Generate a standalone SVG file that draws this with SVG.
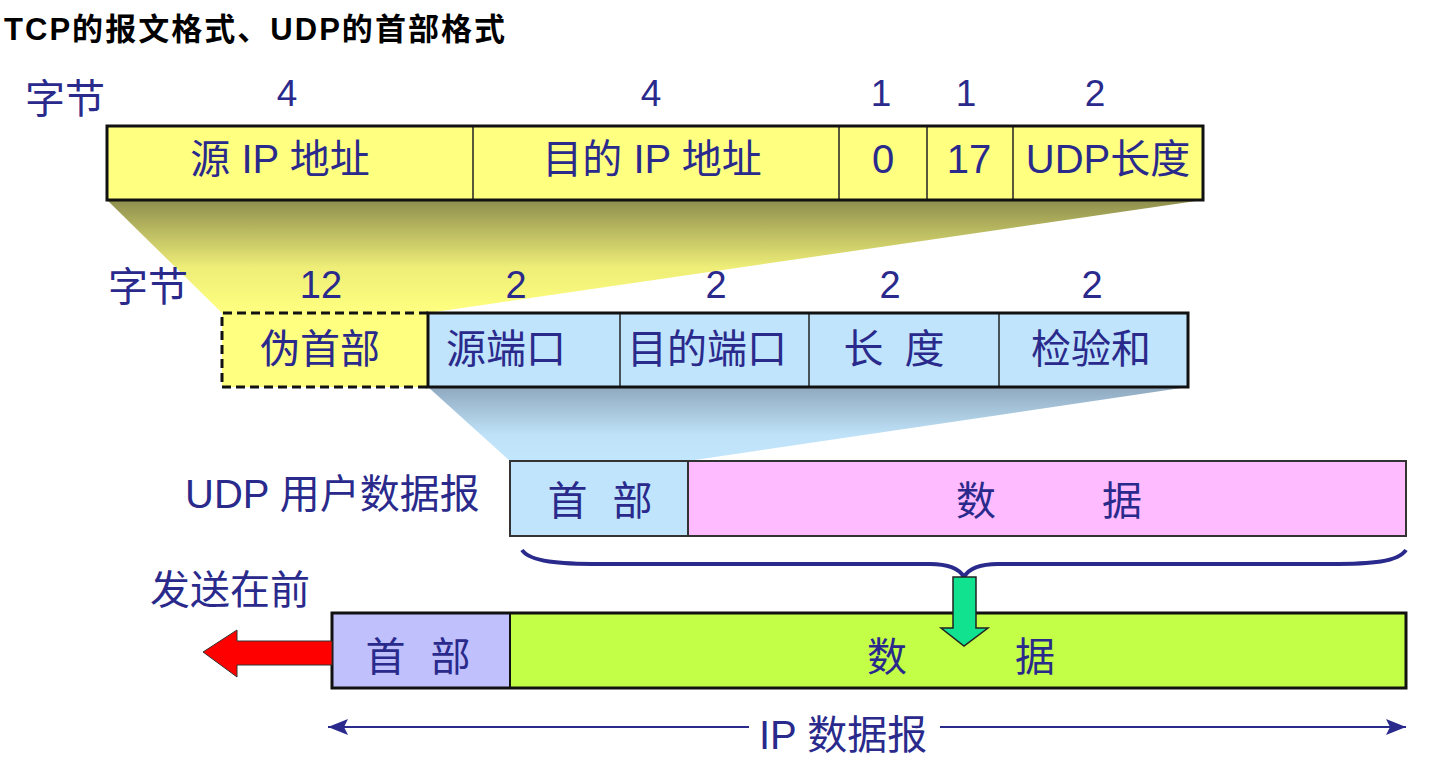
<svg xmlns="http://www.w3.org/2000/svg" width="1446" height="768" viewBox="0 0 1446 768">
<defs>
<linearGradient id="gy" x1="0" y1="0" x2="0" y2="1">
<stop offset="0" stop-color="#8e8e4e"/>
<stop offset="0.6" stop-color="#eeee78"/>
<stop offset="1" stop-color="#ffff80"/>
</linearGradient>
<linearGradient id="gb" x1="0" y1="0" x2="0" y2="1">
<stop offset="0" stop-color="#8fa9bf"/>
<stop offset="0.65" stop-color="#bfe2f8"/>
<stop offset="1" stop-color="#c2e6fb"/>
</linearGradient>
<marker id="ah" viewBox="0 0 20 16" refX="20" refY="8" markerWidth="20" markerHeight="16" markerUnits="userSpaceOnUse" orient="auto-start-reverse">
<path d="M0,0 L20,8 L0,16 L4,8 Z" fill="#2a2a8c"/>
</marker>
<style>
.t{font-family:"Liberation Sans","Noto Sans CJK SC",sans-serif;fill:#2a2a8c;font-size:40px}
.c{text-anchor:middle}
.yel{fill:#ffff80}
.blu{fill:#c0e4fb}
.box{stroke:#111;stroke-width:3;fill:none}
.div{stroke:#222;stroke-width:1.5}
</style>
</defs>
<rect width="1446" height="768" fill="#fff"/>
<text x="4" y="40" textLength="501" lengthAdjust="spacing" style="font-family:'Liberation Sans','Noto Sans CJK SC',sans-serif;font-weight:bold;font-size:31px;fill:#000">TCP的报文格式、UDP的首部格式</text>

<g id="funnels">
<polygon points="107,200 1203,200 428,313 222,313" fill="url(#gy)"/>
<polygon points="428,387 1188,387 688,461 510,461" fill="url(#gb)"/>
</g>

<g id="row1">
<text class="t" x="25" y="113">字节</text>
<text class="t c" x="287" y="106" style="font-size:37px">4</text>
<text class="t c" x="651" y="106" style="font-size:37px">4</text>
<text class="t c" x="881" y="106" style="font-size:37px">1</text>
<text class="t c" x="966" y="106" style="font-size:37px">1</text>
<text class="t c" x="1095" y="106" style="font-size:37px">2</text>
</g>

<g id="pseudo-header">
<rect x="107" y="126" width="1096" height="74" class="yel"/>
<line x1="473" y1="126" x2="473" y2="200" class="div"/>
<line x1="839" y1="126" x2="839" y2="200" class="div"/>
<line x1="927" y1="126" x2="927" y2="200" class="div"/>
<line x1="1013" y1="126" x2="1013" y2="200" class="div"/>
<rect x="107" y="126" width="1096" height="74" class="box"/>
<text class="t c" x="280" y="173">源 IP 地址</text>
<text class="t c" x="652" y="173">目的 IP 地址</text>
<text class="t c" x="883" y="173">0</text>
<text class="t c" x="969" y="173">17</text>
<text class="t c" x="1108" y="173">UDP长度</text>
</g>

<g id="row2">
<text class="t" x="108" y="301">字节</text>
<text class="t c" x="321" y="298" style="font-size:38px">12</text>
<text class="t c" x="516" y="298" style="font-size:38px">2</text>
<text class="t c" x="716" y="298" style="font-size:38px">2</text>
<text class="t c" x="890" y="298" style="font-size:38px">2</text>
<text class="t c" x="1092" y="298" style="font-size:38px">2</text>
</g>

<g id="udp-header">
<rect x="222" y="313" width="206" height="74" class="yel"/>
<rect x="428" y="313" width="760" height="74" class="blu"/>
<path d="M428,313 L222,313 L222,387 L428,387" fill="none" stroke="#111" stroke-width="3" stroke-dasharray="9,5"/>
<line x1="620" y1="313" x2="620" y2="387" class="div"/>
<line x1="809" y1="313" x2="809" y2="387" class="div"/>
<line x1="999" y1="313" x2="999" y2="387" class="div"/>
<rect x="428" y="313" width="760" height="74" class="box"/>
<text class="t c" x="320" y="363">伪首部</text>
<text class="t c" x="506" y="363">源端口</text>
<text class="t c" x="707" y="363">目的端口</text>
<text class="t c" x="894" y="363" style="word-spacing:10px">长 度</text>
<text class="t c" x="1091" y="363">检验和</text>
</g>

<g id="udp-datagram">
<text class="t" x="185" y="508">UDP 用户数据报</text>
<rect x="510" y="461" width="178" height="75" class="blu"/>
<rect x="688" y="461" width="718" height="75" fill="#ffbbff"/>
<line x1="688" y1="461" x2="688" y2="536" stroke="#333" stroke-width="2"/>
<rect x="510" y="461" width="896" height="75" fill="none" stroke="#333" stroke-width="2"/>
<text class="t c" x="600" y="515" style="word-spacing:14px">首 部</text>
<text class="t c" y="515"><tspan x="976">数</tspan><tspan x="1122">据</tspan></text>
</g>

<g id="ip-datagram">
<text class="t" x="150" y="604">发送在前</text>
<rect x="332" y="613" width="178" height="75" fill="#c0c0fd"/>
<rect x="510" y="613" width="896" height="75" fill="#c4ff48"/>
<line x1="510" y1="613" x2="510" y2="688" stroke="#111" stroke-width="2"/>
<rect x="332" y="613" width="1074" height="75" class="box"/>
<text class="t c" x="418" y="671" style="word-spacing:14px">首 部</text>
<text class="t c" y="671"><tspan x="887">数</tspan><tspan x="1035">据</tspan></text>
</g>

<g id="connectors">
<path d="M522,550 C530,562 560,564 600,564 L930,564 C952,564 960,570 964,577 C968,570 976,564 998,564 L1330,564 C1372,564 1398,562 1406,550" fill="none" stroke="#2a2a8c" stroke-width="4"/>
<polygon points="953,577 976,577 976,628 988,628 964,646 941,628 953,628" fill="#10e28f" stroke="#222" stroke-width="1.5"/>
<polygon points="203,652 237,630 237,641 332,641 332,665 237,665 237,677" fill="#ff0000" stroke="#333" stroke-width="1"/>
<line x1="328" y1="727" x2="749" y2="727" stroke="#2a2a8c" stroke-width="2" marker-start="url(#ah)"/>
<line x1="940" y1="727" x2="1406" y2="727" stroke="#2a2a8c" stroke-width="2" marker-end="url(#ah)"/>
<text class="t" x="759" y="749">IP 数据报</text>
</g>
</svg>
